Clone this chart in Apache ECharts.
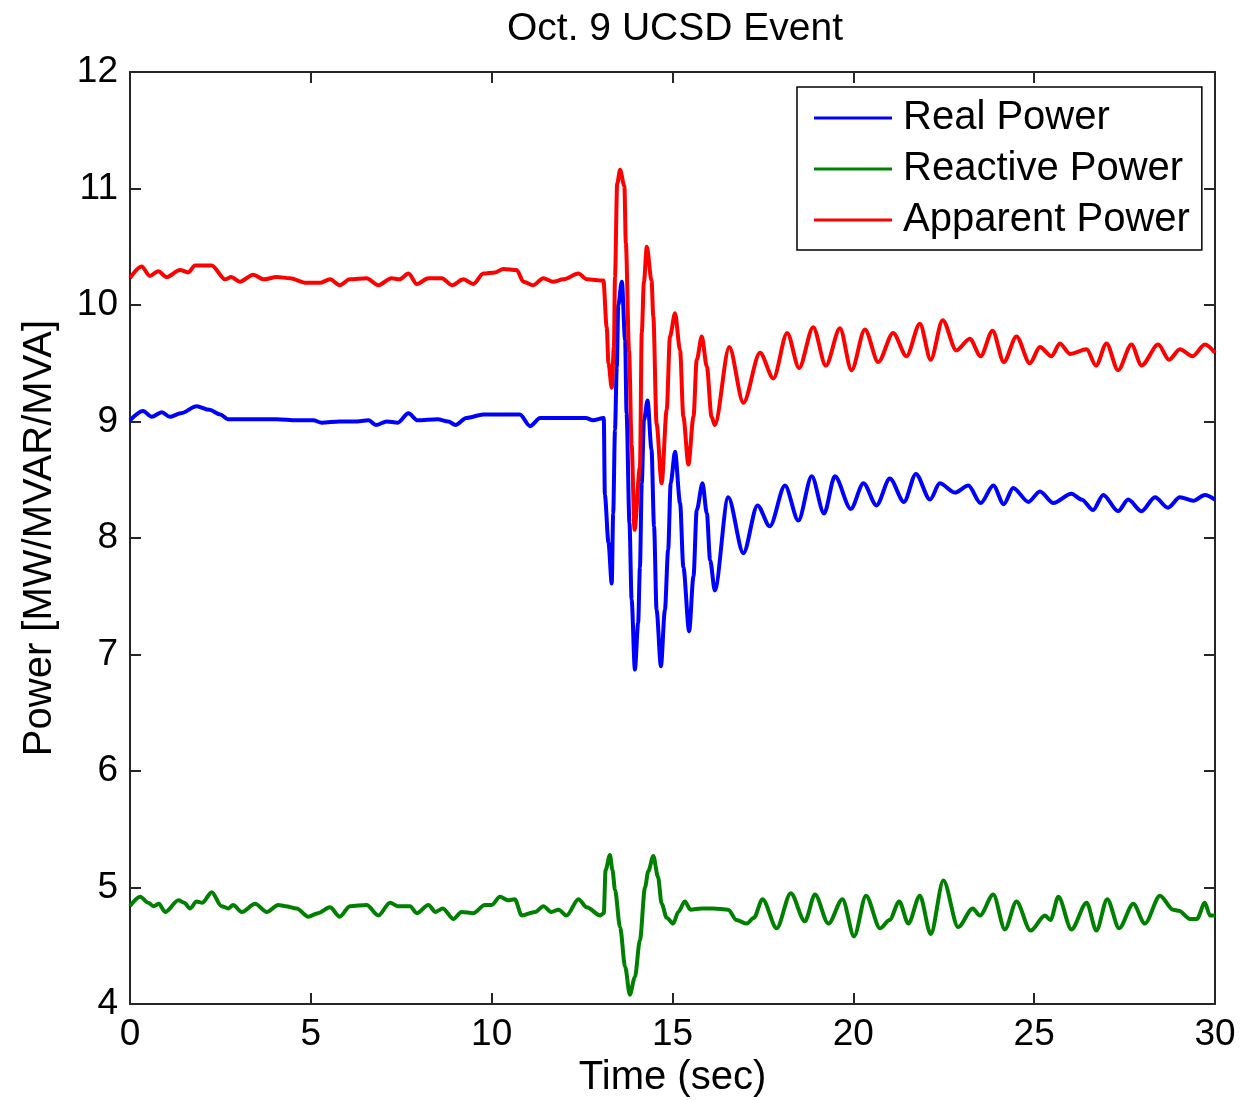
<!DOCTYPE html>
<html>
<head>
<meta charset="utf-8">
<script src="https://cdn.jsdelivr.net/npm/echarts@6/dist/echarts.min.js"></script>
<style>
  html, body { margin: 0; padding: 0; background: #ffffff; }
  #chart { width: 1243px; height: 1100px; }
</style>
</head>
<body>
<div id="chart"></div>
<script>
// Time (sec) / power samples for the Oct. 9 event recording
const realPower = [
  [0, 9.01], [0.36, 9.09], [0.6, 9.04], [0.88, 9.08], [1.1, 9.04], [1.4, 9.07], [1.84, 9.13],
  [2.2, 9.1], [2.5, 9.06], [2.7, 9.02], [3.5, 9.02], [4.06, 9.02], [4.6, 9.01], [5.07, 9.01],
  [5.3, 8.99], [5.8, 9.0], [6.2, 9.0], [6.6, 9.01], [6.8, 8.97], [7.1, 9.0], [7.4, 8.99],
  [7.7, 9.07], [7.95, 9.01], [8.5, 9.02], [8.8, 9.0], [9.0, 8.97], [9.3, 9.03], [9.77, 9.06],
  [10.3, 9.06], [10.78, 9.06], [11.06, 8.96], [11.34, 9.03], [12.0, 9.03], [12.6, 9.03],
  [12.8, 9.01], [13.1, 9.03],
  [13.13, 8.37], [13.23, 7.96], [13.32, 7.61], [13.36, 8.21], [13.41, 8.93], [13.46, 9.47],
  [13.50, 10.0], [13.60, 10.2], [13.69, 9.7], [13.73, 9.07], [13.81, 8.13], [13.87, 7.47],
  [13.96, 6.87], [14.05, 7.27], [14.10, 7.75], [14.15, 8.47], [14.21, 9.01], [14.31, 9.18],
  [14.42, 8.76], [14.49, 8.1], [14.56, 7.38], [14.68, 6.9], [14.79, 7.38], [14.88, 7.9],
  [14.95, 8.47], [15.07, 8.74], [15.21, 8.3], [15.30, 7.75], [15.46, 7.2], [15.58, 7.67],
  [15.67, 8.24], [15.83, 8.47], [15.95, 8.21], [16.04, 7.81], [16.17, 7.55], [16.54, 8.35],
  [16.96, 7.87], [17.35, 8.28], [17.69, 8.10], [18.11, 8.45], [18.48, 8.15], [18.85, 8.53],
  [19.19, 8.21], [19.49, 8.53], [19.93, 8.25], [20.28, 8.47], [20.64, 8.28], [21.01, 8.51],
  [21.4, 8.31], [21.73, 8.55], [22.12, 8.33], [22.39, 8.47], [22.81, 8.39], [23.18, 8.45],
  [23.52, 8.30], [23.87, 8.45], [24.16, 8.29], [24.42, 8.43], [24.84, 8.31], [25.16, 8.40],
  [25.53, 8.30], [26.03, 8.38], [26.31, 8.33], [26.63, 8.24], [26.91, 8.37], [27.32, 8.23],
  [27.6, 8.33], [27.97, 8.23], [28.34, 8.35], [28.7, 8.26], [29.03, 8.35], [29.4, 8.32],
  [29.72, 8.37], [30, 8.33]
];

const reactivePower = [
  [0, 4.84], [0.28, 4.92], [0.5, 4.87], [0.65, 4.84], [0.8, 4.86], [0.97, 4.79], [1.34, 4.89],
  [1.5, 4.87], [1.66, 4.82], [1.84, 4.88], [2.0, 4.87], [2.26, 4.96], [2.53, 4.84], [2.72, 4.82],
  [2.85, 4.85], [3.09, 4.79], [3.46, 4.86], [3.78, 4.79], [4.1, 4.85], [4.3, 4.84], [4.61, 4.82],
  [4.93, 4.75], [5.2, 4.78], [5.53, 4.83], [5.8, 4.75], [6.08, 4.84], [6.54, 4.85], [6.87, 4.76],
  [7.19, 4.87], [7.4, 4.84], [7.74, 4.84], [7.93, 4.78], [8.25, 4.85], [8.45, 4.79], [8.65, 4.82],
  [8.94, 4.73], [9.17, 4.79], [9.49, 4.78], [9.81, 4.85], [10.0, 4.85], [10.23, 4.92],
  [10.45, 4.89], [10.64, 4.9], [10.83, 4.76], [11.2, 4.79], [11.43, 4.84], [11.65, 4.79],
  [11.85, 4.81], [12.07, 4.76], [12.4, 4.9], [12.63, 4.83], [13.0, 4.76], [13.1, 4.78],
  [13.15, 5.15], [13.27, 5.28], [13.34, 5.15], [13.41, 4.98], [13.55, 4.66], [13.69, 4.32],
  [13.82, 4.08], [13.96, 4.23], [14.1, 4.55], [14.24, 5.0], [14.33, 5.14], [14.47, 5.27],
  [14.6, 5.09], [14.7, 4.86], [14.84, 4.74], [15.02, 4.69], [15.16, 4.79], [15.34, 4.88],
  [15.5, 4.81], [15.8, 4.82], [16.13, 4.82], [16.54, 4.81], [16.77, 4.72], [17.05, 4.69],
  [17.25, 4.74], [17.49, 4.9], [17.88, 4.65], [18.27, 4.95], [18.66, 4.71], [18.94, 4.94],
  [19.31, 4.69], [19.7, 4.9], [20.02, 4.58], [20.35, 4.93], [20.74, 4.65], [21.0, 4.72],
  [21.27, 4.88], [21.52, 4.69], [21.84, 4.93], [22.14, 4.6], [22.49, 5.06], [22.9, 4.66],
  [23.3, 4.82], [23.5, 4.76], [23.87, 4.94], [24.19, 4.64], [24.51, 4.88], [24.9, 4.63],
  [25.3, 4.76], [25.45, 4.72], [25.67, 4.92], [26.03, 4.64], [26.45, 4.87], [26.72, 4.63],
  [27.02, 4.9], [27.35, 4.65], [27.74, 4.86], [28.06, 4.69], [28.48, 4.93], [28.84, 4.81],
  [29.0, 4.8], [29.31, 4.73], [29.5, 4.73], [29.72, 4.87], [29.86, 4.76], [30, 4.76]
];

const apparentPower = [
  [0, 10.23], [0.32, 10.33], [0.55, 10.25], [0.78, 10.29], [1.01, 10.24], [1.38, 10.3],
  [1.61, 10.28], [1.8, 10.34], [2.26, 10.34], [2.63, 10.22], [2.8, 10.24], [3.04, 10.2],
  [3.41, 10.26], [3.69, 10.22], [4.06, 10.24], [4.42, 10.23], [4.88, 10.19], [5.25, 10.19],
  [5.53, 10.22], [5.8, 10.17], [6.08, 10.22], [6.54, 10.23], [6.87, 10.17], [7.23, 10.23],
  [7.45, 10.22], [7.7, 10.27], [7.93, 10.18], [8.25, 10.23], [8.62, 10.23], [8.9, 10.17],
  [9.22, 10.22], [9.49, 10.18], [9.77, 10.27], [10.1, 10.28], [10.32, 10.31], [10.69, 10.3],
  [10.88, 10.2], [11.15, 10.17], [11.43, 10.23], [11.7, 10.2], [11.98, 10.22], [12.4, 10.27],
  [12.63, 10.22], [13.09, 10.21],
  [13.18, 9.81], [13.23, 9.5], [13.32, 9.29], [13.38, 9.64], [13.41, 10.24], [13.47, 11.04],
  [13.55, 11.16], [13.67, 11.02], [13.71, 10.53], [13.80, 9.6], [13.87, 8.8], [13.95, 8.07],
  [14.10, 8.61], [14.15, 9.76], [14.21, 10.2], [14.29, 10.5], [14.42, 10.21], [14.47, 9.9],
  [14.56, 8.98], [14.70, 8.47], [14.84, 9.1], [14.93, 9.73], [15.07, 9.93], [15.21, 9.61],
  [15.30, 9.04], [15.44, 8.63], [15.58, 9.04], [15.67, 9.53], [15.81, 9.73], [15.95, 9.47],
  [16.08, 9.04], [16.17, 8.97], [16.57, 9.64], [16.96, 9.16], [17.42, 9.59], [17.79, 9.37],
  [18.17, 9.76], [18.5, 9.46], [18.89, 9.81], [19.24, 9.48], [19.63, 9.8], [19.95, 9.44],
  [20.32, 9.79], [20.69, 9.51], [21.1, 9.76], [21.47, 9.56], [21.84, 9.84], [22.14, 9.53],
  [22.47, 9.87], [22.85, 9.61], [23.22, 9.71], [23.52, 9.56], [23.85, 9.78], [24.16, 9.51],
  [24.51, 9.73], [24.88, 9.5], [25.16, 9.64], [25.48, 9.56], [25.71, 9.67], [25.99, 9.58],
  [26.45, 9.62], [26.71, 9.48], [27.0, 9.67], [27.32, 9.44], [27.69, 9.66], [27.97, 9.48],
  [28.43, 9.66], [28.73, 9.53], [29.03, 9.62], [29.38, 9.56], [29.72, 9.66], [30, 9.59]
];

const seriesNames = ['Real Power', 'Reactive Power', 'Apparent Power'];
const seriesColors = ['#0000ff', '#008000', '#ff0000'];
const xRange = { min: 0, max: 30, step: 5 };
const yRange = { min: 4, max: 12, step: 1 };

const FONT = '"Liberation Sans", Arial, Helvetica, sans-serif';
const AXIS_COLOR = '#262626';

const chart = echarts.init(document.getElementById('chart'), null, { renderer: 'canvas' });

function frameAxis(extra) {
  return Object.assign({
    type: 'value',
    axisLine: { show: true, onZero: false, lineStyle: { color: AXIS_COLOR, width: 2 } },
    axisTick: { show: true, inside: true, length: 11, lineStyle: { color: AXIS_COLOR, width: 2 } },
    splitLine: { show: false },
    minorTick: { show: false }
  }, extra);
}

const option = {
  backgroundColor: '#ffffff',
  animation: false,
  title: {
    text: 'Oct. 9 UCSD Event',
    left: 670, top: 5, textAlign: 'center',
    textStyle: { fontFamily: FONT, fontSize: 39, fontWeight: 'normal', color: '#000' }
  },
  grid: {
    left: 130, right: 28, top: 72, bottom: 96,
    containLabel: false,
    outerBoundsMode: 'none'
  },
  legend: {
    orient: 'vertical',
    left: 797, top: 87,
    padding: [8, 12, 7, 17],
    itemGap: 5,
    itemWidth: 78, itemHeight: 3,
    icon: 'rect',
    borderColor: '#000', borderWidth: 1.5,
    backgroundColor: '#ffffff',
    textStyle: { fontFamily: FONT, fontSize: 40, color: '#000', lineHeight: 46, padding: [0, 0, 0, 6] },
    data: seriesNames
  },
  xAxis: [
    frameAxis({
      min: xRange.min, max: xRange.max, interval: xRange.step,
      position: 'bottom',
      name: 'Time (sec)', nameLocation: 'middle', nameGap: 54,
      nameTextStyle: { fontFamily: FONT, fontSize: 40, color: '#000' },
      axisLabel: { fontFamily: FONT, fontSize: 37, color: '#000', margin: 12 }
    }),
    frameAxis({
      min: xRange.min, max: xRange.max, interval: xRange.step,
      position: 'top',
      axisLabel: { show: false }
    })
  ],
  yAxis: [
    frameAxis({
      min: yRange.min, max: yRange.max, interval: yRange.step,
      position: 'left',
      name: 'Power [MW/MVAR/MVA]', nameLocation: 'middle', nameGap: 70,
      nameTextStyle: { fontFamily: FONT, fontSize: 40, color: '#000' },
      axisLabel: { fontFamily: FONT, fontSize: 37, color: '#000', margin: 12 }
    }),
    frameAxis({
      min: yRange.min, max: yRange.max, interval: yRange.step,
      position: 'right',
      axisLabel: { show: false }
    })
  ],
  series: [realPower, reactivePower, apparentPower].map((data, i) => ({
    name: seriesNames[i],
    type: 'line',
    xAxisIndex: 0, yAxisIndex: 0,
    data: data,
    symbol: 'none',
    smooth: 0.3,
    smoothMonotone: 'x',
    lineStyle: { color: seriesColors[i], width: 4 },
    itemStyle: { color: seriesColors[i] },
    z: 2 + i
  }))
};

chart.setOption(option);
</script>
</body>
</html>
